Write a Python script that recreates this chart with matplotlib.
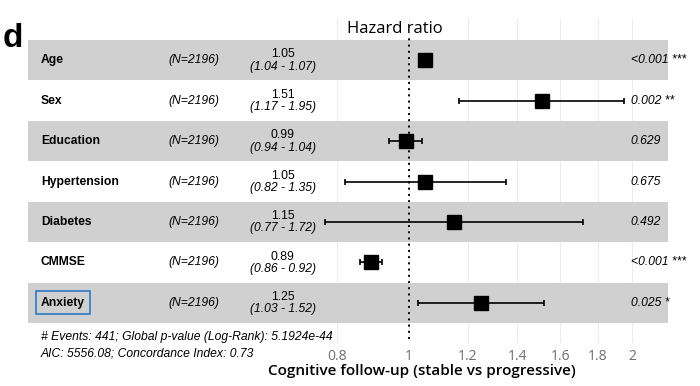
import matplotlib
matplotlib.use('Agg')
import matplotlib.pyplot as plt
import matplotlib.transforms as mtransforms
import numpy as np

plt.rcParams['font.family'] = ['Liberation Sans', 'DejaVu Sans']

variables = ['Age', 'Sex', 'Education', 'Hypertension', 'Diabetes', 'CMMSE', 'Anxiety']
n_text = ['(N=2196)'] * 7
hr = [1.05, 1.51, 0.99, 1.05, 1.15, 0.89, 1.25]
ci_low = [1.04, 1.17, 0.94, 0.82, 0.77, 0.86, 1.03]
ci_high = [1.07, 1.95, 1.04, 1.35, 1.72, 0.92, 1.52]
p_text = ['<0.001 ***', '0.002 **', '0.629', '0.675', '0.492', '<0.001 ***', '0.025 *']
ticks = [0.8, 1, 1.2, 1.4, 1.6, 1.8, 2]
tick_labels = ['0.8', '1', '1.2', '1.4', '1.6', '1.8', '2']
footer = ['# Events: 441; Global p-value (Log-Rank): 5.1924e-44',
          'AIC: 5556.08; Concordance Index: 0.73']

W, H = 700, 386
fig = plt.figure(figsize=(7, 3.86), dpi=100)
ax = fig.add_axes([28 / W, (H - 343) / H, 640 / W, 325 / H])
ax.set_xscale('log')
ax.set_xlim(0.306, 2.237)
ax.set_ylim(0.01, 8.04)

nrow = len(variables)
ypos = np.arange(nrow, 0, -1)

# grid lines, hidden under the grey bands
for t in ticks:
    ax.axvline(t, color='#ececec', lw=0.8, zorder=0)

# alternating bands
for i, y in enumerate(ypos):
    if i % 2 == 0:
        ax.axhspan(y - 0.5, y + 0.5, color='#d0d0d0', lw=0, zorder=1)

ax.vlines(1, 0.11, 7.54, colors='black', linestyles=(0, (1, 2.2)), lw=1.4, zorder=2)

hr_a = np.array(hr)
err = [hr_a - np.array(ci_low), np.array(ci_high) - hr_a]
ax.errorbar(hr, ypos, xerr=err, fmt='s', color='black', ms=10, elinewidth=1.2,
            capsize=2.3, capthick=1.2, zorder=3)

trans = mtransforms.blended_transform_factory(ax.transAxes, ax.transData)
fs = 8.7
for i, y in enumerate(ypos):
    if variables[i] == 'Anxiety':
        ax.text(0.0203, y, variables[i], transform=trans, fontsize=fs, fontweight='bold',
                ha='left', va='center',
                bbox=dict(boxstyle='square,pad=0.45', fc='none', ec='#3a7fc4', lw=1.3))
    else:
        ax.text(0.0203, y, variables[i], transform=trans, fontsize=fs, fontweight='bold',
                ha='left', va='center')
    ax.text(0.219, y, n_text[i], transform=trans, fontsize=fs, style='italic',
            ha='left', va='center')
    ax.text(0.398, y + 0.14, '%.2f' % hr[i], transform=trans, fontsize=fs,
            ha='center', va='center')
    ax.text(0.398, y - 0.16, '(%.2f - %.2f)' % (ci_low[i], ci_high[i]), transform=trans,
            fontsize=fs, style='italic', ha='center', va='center')
    ax.text(0.942, y, p_text[i], transform=trans, fontsize=fs, style='italic',
            ha='left', va='center', clip_on=False)

ax.set_xticks(ticks)
ax.set_xticklabels(tick_labels, family='Open Sans', fontsize=10, color='#6e6e6e')
ax.xaxis.set_minor_locator(matplotlib.ticker.NullLocator())
ax.tick_params(axis='x', length=0, pad=4)
ax.set_yticks([])
for s in ax.spines.values():
    s.set_visible(False)

fig.text(395 / W, 1 - 33 / H, 'Hazard ratio', family='Open Sans', fontsize=12,
         ha='center', va='baseline')
fig.text(422 / W, 1 - 375 / H, 'Cognitive follow-up (stable vs progressive)',
         family='Open Sans', fontweight='semibold', fontsize=11, ha='center', va='baseline')
fig.text(3 / W, 1 - 47 / H, 'd', fontsize=24, fontweight='bold', ha='left', va='baseline')
fig.text(41 / W, 1 - 340 / H, footer[0], fontsize=fs, style='italic', ha='left', va='baseline')
fig.text(41 / W, 1 - 357 / H, footer[1], fontsize=fs, style='italic', ha='left', va='baseline')

fig.savefig('out.png', dpi=100)
